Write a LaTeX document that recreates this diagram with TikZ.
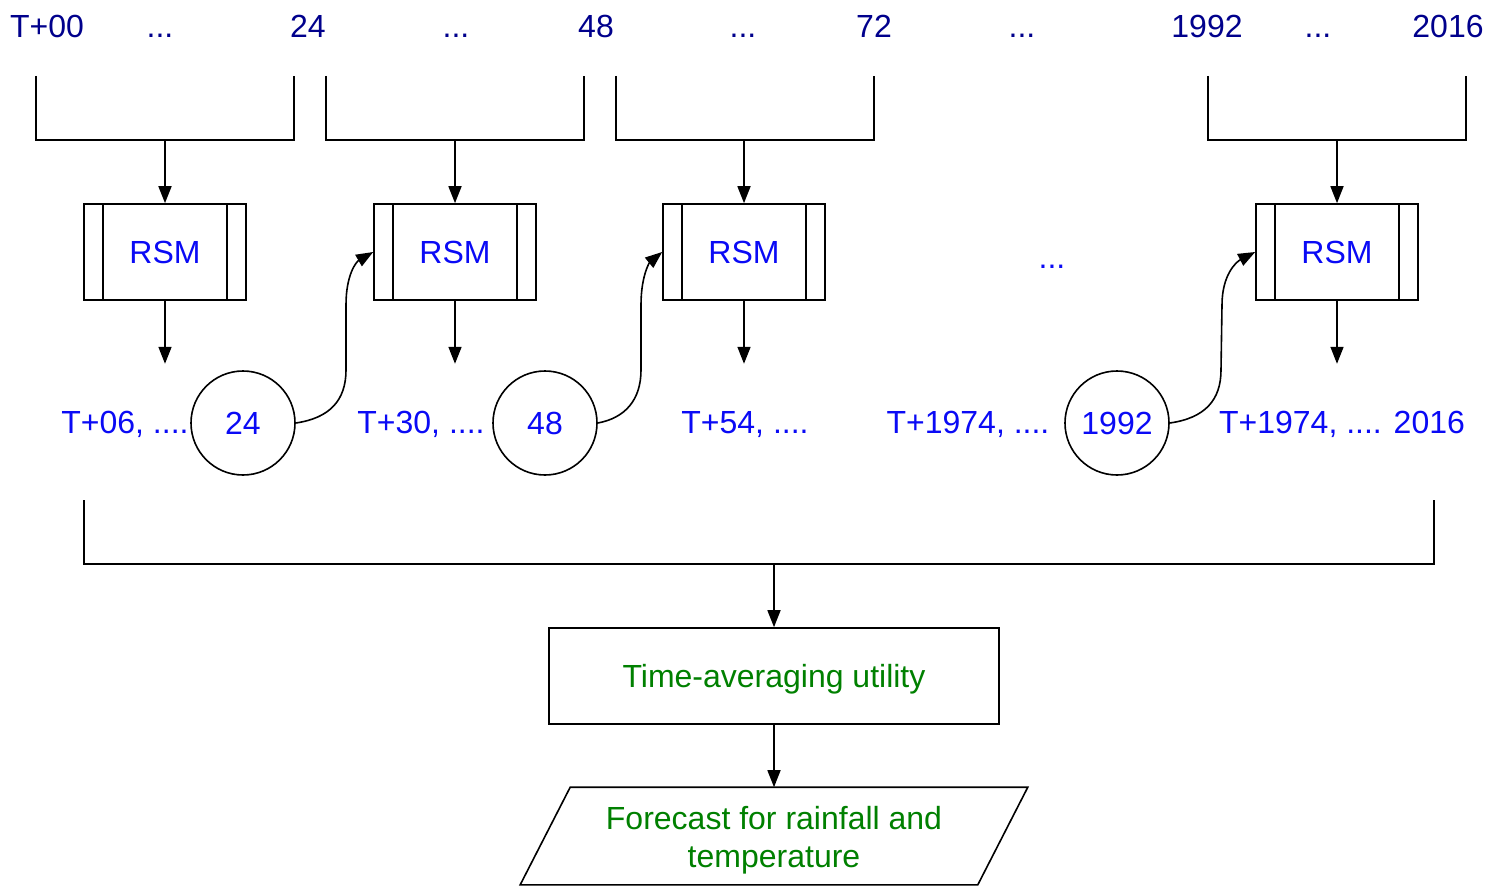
\documentclass[tikz,border=0pt]{standalone}
\usepackage{fontspec}
\setmainfont{Liberation Sans}
\usetikzlibrary{arrows.meta}
\definecolor{topnavy}{RGB}{0,0,140}
\definecolor{lblblue}{RGB}{10,10,245}
\definecolor{lblgreen}{RGB}{0,128,0}
\begin{document}
\begin{tikzpicture}[x=1pt,y=-1pt,
  line width=1.6pt,
  every node/.style={font=\fontsize{32}{38}\selectfont, inner sep=0pt},
  toplbl/.style={text=topnavy, anchor=base},
  rowlbl/.style={text=lblblue, anchor=base},
  rsmbox/.style={draw, minimum width=162pt, minimum height=96pt, text=lblblue,
     text height=23pt, text depth=0pt},
  stepcircle/.style={draw, circle, minimum size=104pt, text=lblblue,
     text height=23pt, text depth=0pt},
  procbox/.style={draw, minimum width=450pt, minimum height=96pt, text=lblgreen,
     text height=23pt, text depth=0pt},
  iobox/.style={minimum width=456pt, minimum height=96pt},
  iotext/.style={text=lblgreen, align=center},
  flow/.style={-{Triangle[length=17pt,width=13pt]}},
]
\useasboundingbox (0,0) rectangle (1494,891);

% time stamps along the top
\node[toplbl] (t00) at (47,38) {T+00};
\node[toplbl] (d1) at (160,38) {...};
\node[toplbl] (t24) at (308,38) {24};
\node[toplbl] (d2) at (456,38) {...};
\node[toplbl] (t48) at (596,38) {48};
\node[toplbl] (d3) at (743,38) {...};
\node[toplbl] (t72) at (874,38) {72};
\node[toplbl] (d4) at (1022,38) {...};
\node[toplbl] (t1992) at (1207,38) {1992};
\node[toplbl] (d5) at (1318,38) {...};
\node[toplbl] (t2016) at (1448,38) {2016};

% model runs (boxes with double side bars)
\newcommand{\rsmnode}[2]{%
  \node[rsmbox] (#1) at (#2,252) {RSM};
  \draw ([xshift=20pt]#1.north west) -- ([xshift=20pt]#1.south west);
  \draw ([xshift=-20pt]#1.north east) -- ([xshift=-20pt]#1.south east);}
\rsmnode{rsm1}{165}
\rsmnode{rsm2}{455}
\rsmnode{rsm3}{744}
\rsmnode{rsm4}{1337}

% brackets gathering the input times
\foreach \n/\l/\r/\m in {1/36/294/165, 2/326/584/455, 3/616/874/744, 4/1208/1466/1337}{
  \coordinate (bl\n) at (\l,76);
  \coordinate (br\n) at (\r,76);
  \coordinate (bm\n) at (\m,140);
  \draw (bl\n) |- (bm\n) -| (br\n);
  \draw[flow] (bm\n) -- (rsm\n.north);
}

% outputs of each run
\node[rowlbl] (o1) at (125,433) {T+06, ....};
\node[stepcircle] (c24) at (243,423) {24};
\node[rowlbl] (o2) at (421,433) {T+30, ....};
\node[stepcircle] (c48) at (545,423) {48};
\node[rowlbl] (o3) at (745,433) {T+54, ....};
\node[rowlbl] (o4) at (968,433) {T+1974, ....};
\node[stepcircle] (c1992) at (1117,423) {1992};
\node[rowlbl] (o5) at (1342,433) {T+1974, .... 2016};
\node[rowlbl] (gap) at (1052,268) {...};

\foreach \n in {1,2,3,4}{
  \coordinate (e\n) at ([yshift=-63pt]rsm\n.south);
  \draw[flow] (rsm\n.south) -- (e\n);
}

% restart links from checkpoints to the next run
\draw[flow] (c24.east) .. controls (330,418) and (346,400) .. (346,370)
   -- (346,305) .. controls (346,275) and (356,262) .. (rsm2.west);
\draw[flow] (c48.east) .. controls (625,418) and (641,400) .. (641,370)
   -- (641,305) .. controls (641,275) and (650,262) .. (rsm3.west);
\draw[flow] (c1992.east) .. controls (1205,418) and (1221,400) .. (1221,370)
   -- (1222,305) .. controls (1222,275) and (1236,262) .. (rsm4.west);

% gathering all outputs
\coordinate (gl) at (84,500);
\coordinate (gr) at (1434,500);
\coordinate (gm) at (774,564);
\draw (gl) |- (gm) -| (gr);

\node[procbox] (avg) at (774,676) {Time-averaging utility};
\draw[flow] (gm) -- (avg.north);

% output parallelogram
\node[iobox] (fc) at (774,836) {};
\draw ([xshift=25pt]fc.north west) -- ([xshift=25pt]fc.north east)
   -- ([xshift=-25pt]fc.south east) -- ([xshift=-25pt]fc.south west) -- cycle;
\node[iotext] (fctext) at (774,840) {Forecast for rainfall and\\temperature};
\draw[flow] (avg.south) -- (fc.north);
\end{tikzpicture}
\end{document}
